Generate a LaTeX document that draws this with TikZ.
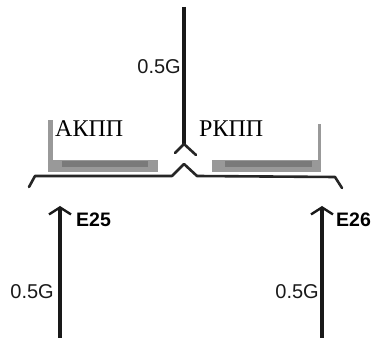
\documentclass[tikz,border=0pt]{standalone}
\usepackage{fontspec}
\setmainfont{Liberation Serif}
\newfontfamily\labelfont{Liberation Sans}
\usetikzlibrary{arrows.meta}
\begin{document}
\begin{tikzpicture}[x=1pt,y=-1pt,
  force/.style={line width=3.2pt,color=black!90},
  bracket/.style={line width=2.6pt,color=black!85,line join=round,line cap=round},
  load/.style={font=\labelfont\fontsize{20}{20}\selectfont,text=black!90,inner sep=0pt},
  tag/.style={font=\labelfont\bfseries\fontsize{19.5}{20}\selectfont,text=black,inner sep=0pt},
  panel/.style={fill=white,inner sep=0pt,anchor=north west},
  caption/.style={font=\fontsize{24}{24}\selectfont,inner sep=0pt,anchor=base west},
  shade/.style={fill=black!40}]
\useasboundingbox (0,0) rectangle (376,342);

% grey plates behind the captions
\fill[shade] (48,120) rectangle (158,172);
\fill[shade] (212,124) rectangle (321,172);
\fill[black!52] (62,161) rectangle (148,167);
\fill[black!52] (225,161) rectangle (312,167);

% caption panels
\node[panel,minimum width=122pt,minimum height=42pt] (lp) at (53,118) {};
\node[panel,minimum width=121pt,minimum height=38pt] (rp) at (197,122) {};
\node[caption] (akpp) at (55,137) {АКПП};
\node[caption] (rkpp) at (199,137) {РКПП};

% incoming load from above
\coordinate (ttop) at (184,7);
\coordinate (tend) at (184,144);
\coordinate (tl) at (175,153);
\coordinate (tr) at (196,155);
\draw[force] (ttop) -- (tend);
\draw[bracket] (tl) -- (tend) -- (tr);
\node[load,anchor=east] (g0) at (181,67) {0.5G};

% distribution bracket
\coordinate (b1) at (29,187);
\coordinate (b2) at (35,176);
\coordinate (b3) at (172,176);
\coordinate (b4) at (184,164);
\coordinate (b5) at (197,176);
\coordinate (b6) at (335,177);
\coordinate (b7) at (342,188);
\draw[bracket] (b1) -- (b2) -- (b3) -- (b4) -- (b5) -- (b6) -- (b7);

% reactions at the supports
\coordinate (l0) at (60,338);
\coordinate (l1) at (60,206);
\coordinate (r0) at (322,338);
\coordinate (r1) at (322,206);
\draw[force,-{Straight Barb[length=7pt,width=22pt,line width=2.4pt]}] (l0) -- (l1);
\draw[force,-{Straight Barb[length=7pt,width=22pt,line width=2.4pt]}] (r0) -- (r1);
\node[tag,anchor=west] (e25) at (76,220) {E25};
\node[tag,anchor=west] (e26) at (336,220) {E26};
\node[load,anchor=east] (g1) at (54,292) {0.5G};
\node[load,anchor=east] (g2) at (319,292) {0.5G};
\end{tikzpicture}
\end{document}
